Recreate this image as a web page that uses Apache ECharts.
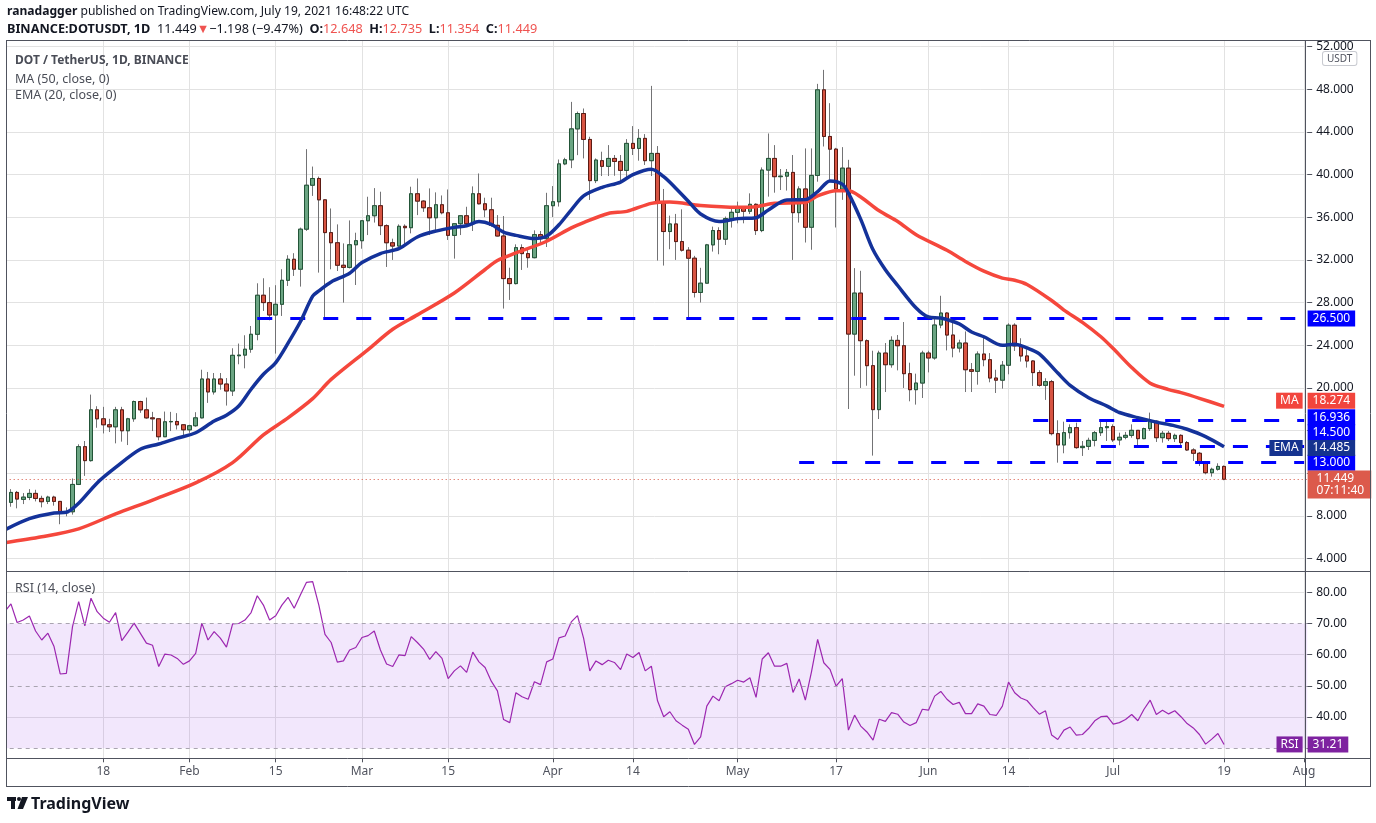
<!DOCTYPE html>
<html>
<head>
<meta charset="utf-8">
<script src="https://cdn.jsdelivr.net/npm/echarts@6/dist/echarts.min.js"></script>
<style>html,body{margin:0;padding:0;background:#fff}#chart{width:1376px;height:823px}</style>
</head>
<body>
<div id="chart"></div>
<script>
// ---------- DATA ----------
// daily candles [open, high, low, close], one array per month (Jan starts on Jan 2)
const jan = [
 [8.34,9.5,8.2,9.28],[9.28,10.52,8.87,10.21],[10.21,10.35,8.72,9.59],[9.56,10.15,9.12,9.77],
 [9.74,10.52,9.49,10.12],[10.12,10.46,9.37,9.65],[9.65,9.9,8.81,9.34],[9.37,9.9,9.12,9.77],
 [9.77,9.9,8.97,9.37],[9.37,9.4,7.23,8.31],[8.31,8.81,7.97,8.40],[8.40,11.52,8.13,10.96],
 [10.96,14.72,10.9,14.5],[14.5,15.03,11.76,13.19],[13.19,19.38,13.1,17.95],[17.95,18.29,16.27,17.11],
 [17.11,18.23,15.74,16.55],[16.55,17.11,15.87,16.36],[16.36,18.23,14.81,17.95],[17.95,18.23,14.97,15.99],
 [15.99,17.2,14.65,17.11],[17.11,18.82,16.83,18.73],[18.73,18.8,17.67,17.95],[17.95,19.1,17.11,17.2],
 [17.2,17.76,15.96,17.11],[17.11,17.15,15.09,15.43],[15.43,17.79,15.4,16.83],[16.83,17.76,15.96,16.86],
 [16.86,17.64,16.11,16.55],[16.55,16.6,15.49,16.08]
];
const feb = [
 [16.08,16.55,15.8,16.46],[16.46,17.73,16.36,17.2],[17.2,21.71,17.15,20.84],[20.84,21.5,18.6,19.63],
 [19.63,21.4,19.38,20.84],[20.84,21.4,19.84,20.37],[20.37,20.93,18.35,19.72],[19.72,23.72,19.25,23.06],
 [23.02,24.16,22.22,23.08],[23.08,24.94,21.84,23.63],[23.63,25.81,23.3,25.03],[25.03,29.81,24.47,28.69],
 [28.69,30.28,27.22,28.0],[28.0,29.44,26.34,26.84],[26.84,29.63,23.22,27.84],[27.84,31.13,26.75,30.09],
 [30.09,32.44,29.56,32.06],[32.06,32.63,30.5,31.13],[31.13,35.03,29.5,34.88],[34.88,42.38,34.72,39.0],
 [39.0,40.75,38.0,39.63],[39.63,39.81,30.81,37.63],[37.63,37.67,26.5,34.56],[34.56,36.82,31.12,33.61],
 [33.61,35.33,30.96,31.5],[31.5,33.55,28.0,31.3],[31.3,35.7,31.2,33.42],[33.42,34.55,29.65,33.8]
];
const mar = [
 [33.8,35.7,33.05,35.67],[35.67,37.92,34.33,36.14],[36.14,38.73,35.5,37.08],[37.08,38.39,34.33,35.21],
 [35.21,35.33,31.34,33.61],[33.61,33.99,32.0,33.3],[33.3,35.33,33.25,35.15],[35.15,35.33,33.36,35.02],
 [35.02,38.86,34.49,38.2],[38.2,39.63,36.2,37.51],[37.51,37.6,36.5,36.89],[36.89,38.7,34.33,35.95],
 [35.95,38.33,34.71,37.17],[37.17,38.04,36.27,36.42],[36.42,38.6,33.87,34.3],[34.3,35.45,32.12,35.39],
 [35.39,36.2,34.33,36.14],[36.14,36.98,35.24,35.39],[35.39,38.89,34.71,38.2],[38.2,40.1,37.2,37.26],
 [37.26,37.83,36.0,36.7],[36.7,37.83,35.11,35.24],[35.24,36.2,34.2,34.24],[34.24,36.11,27.44,30.25],
 [30.25,31.27,28.25,29.78],[29.78,33.46,29.7,33.15],[33.15,33.46,31.06,32.59],[32.59,32.99,31.27,32.21],
 [32.21,34.77,32.15,34.37],[34.37,34.71,33.46,33.99],[33.99,38.29,33.21,37.08]
];
const apr = [
 [37.08,38.92,36.02,37.45],[37.45,41.41,37.0,41.0],[41.0,41.57,40.88,41.38],[41.38,46.81,40.6,44.28],
 [44.28,45.9,41.82,45.72],[45.72,46.19,41.51,43.29],[43.29,43.54,37.62,39.43],[39.43,41.51,39.2,41.36],
 [41.3,42.14,39.86,40.77],[40.77,42.76,39.86,41.51],[41.51,41.83,39.89,41.23],[41.23,41.83,39.33,40.39],
 [40.39,43.32,39.64,42.92],[42.92,44.54,41.83,42.45],[42.45,44.26,41.3,43.39],[43.39,43.79,40.9,41.3],
 [41.3,48.31,39.86,41.98],[41.98,42.67,31.94,37.31],[37.31,38.65,31.47,34.66],[34.66,36.15,33.0,35.37],
 [35.37,36.31,32.0,33.72],[33.72,36.74,32.78,32.91],[32.91,33.2,26.6,32.16],[32.16,32.38,28.48,28.95],
 [28.95,31.26,28.01,29.82],[29.82,33.5,29.8,33.41],[33.41,35.12,32.78,34.75],[34.75,35.06,32.53,33.94],
 [33.94,36.06,33.4,35.87],[35.87,36.99,35.03,36.46]
];
const may = [
 [36.46,37.46,35.43,36.9],[36.9,36.95,35.43,36.56],[36.56,38.24,36.3,37.21],[37.21,37.3,34.34,34.75],
 [34.75,40.67,34.6,40.42],[40.42,43.85,37.93,41.51],[41.51,42.76,38.3,39.8],[39.8,40.52,38.55,39.85],
 [39.85,40.52,38.5,40.2],[40.2,41.83,32.0,36.43],[36.43,38.9,35.5,38.65],[38.65,42.45,33.63,35.06],
 [35.06,42.45,32.95,39.92],[39.92,48.5,39.33,47.94],[47.94,49.81,42.63,43.57],[43.57,46.69,39.5,42.38],
 [42.38,42.5,35.04,38.63],[38.63,42.57,37.63,40.6],[40.6,41.38,18.03,25.05],[25.05,31.23,21.15,28.89],
 [28.89,30.98,20.0,24.43],[24.43,24.55,20.21,22.09],[22.09,23.49,13.66,17.97],[17.97,23.49,17.09,23.27],
 [23.27,24.21,19.62,22.18],[22.18,24.84,21.9,24.46],[24.46,24.96,21.65,23.96],[23.96,26.18,20.0,21.34],
 [21.34,22.37,18.75,19.84],[19.84,21.34,18.44,20.46],[20.46,23.49,19.06,23.27]
];
const jun = [
 [23.27,23.49,21.46,22.81],[22.81,26.55,22.65,25.9],[25.9,28.64,25.6,27.02],[27.02,27.1,23.52,24.96],
 [24.96,26.4,22.87,23.74],[23.74,24.52,23.33,24.21],[24.21,25.3,19.62,21.71],[21.71,22.34,19.62,21.56],
 [21.56,23.43,20.31,23.18],[23.18,24.68,22.03,22.65],[22.65,23.27,20.53,20.93],[20.93,21.71,19.53,20.73],
 [20.73,22.53,19.94,22.13],[22.13,26.06,21.28,25.88],[25.88,26.06,23.47,23.94],[23.94,24.66,22.47,23.0],
 [23.0,23.63,21.91,22.53],[22.53,22.6,20.19,21.44],[21.44,21.66,20.12,20.25],[20.25,20.91,18.88,20.59],
 [20.59,20.75,15.56,15.72],[15.72,16.97,13.0,14.66],[14.66,16.84,13.88,15.81],[15.81,16.59,15.25,16.28],
 [16.28,16.75,14.3,14.41],[14.41,15.03,13.63,14.53],[14.53,15.34,14.19,15.09],[15.09,15.97,14.53,15.81],
 [15.81,17.06,15.5,16.28],[16.28,16.81,15.03,16.38]
];
const jul = [
 [16.38,16.59,14.94,15.13],[15.13,15.81,14.63,15.38],[15.38,15.88,15.19,15.56],[15.56,16.59,15.34,16.03],
 [16.03,16.05,14.47,15.25],[15.25,16.28,15.2,16.19],[16.19,17.69,15.97,16.88],[16.88,16.97,14.94,15.34],
 [15.34,15.97,14.88,15.75],[15.75,15.97,15.03,15.25],[15.25,15.72,14.94,15.56],[15.56,15.66,14.41,14.88],
 [14.88,15.03,14.1,14.19],[14.19,14.35,13.16,13.88],[13.88,14.0,12.69,13.06],[13.06,13.16,11.91,12.06],
 [12.06,12.53,11.69,12.38],[12.38,12.94,12.25,12.648],[12.648,12.735,11.354,11.449]
];

// RSI (14, close), one value per day, Jan 2 .. Jul 19
const rsiJan = [73.8,76.3,70.3,71.1,72.4,67.6,64.7,66.9,62.6,53.8,54.0,69.0,77.0,69.2,78.1,73.8,71.7,70.4,73.5,64.5,67.2,70.1,66.9,63.7,63.0,56.2,60.2,59.9,58.8,56.9];
const rsiFeb = [58.0,60.4,70.1,64.7,67.4,65.3,62.4,69.9,70.0,71.1,73.5,78.9,75.9,71.1,72.5,75.9,78.4,74.9,79.1,83.2,83.4,75.9,66.5,63.9,57.6,58.0,61.5,62.3];
const rsiMar = [65.5,66.1,67.6,61.5,57.0,56.2,59.9,59.7,65.8,63.9,61.8,58.5,61.0,58.8,52.3,54.8,56.4,54.3,60.8,57.7,55.9,51.5,48.4,39.2,38.2,47.8,46.5,45.7,51.3,50.4,57.7];
const rsiApr = [58.6,65.4,66.0,70.5,72.5,65.2,54.8,58.0,56.8,58.2,57.5,55.2,60.2,59.1,60.7,54.8,56.3,45.2,40.1,41.7,38.8,37.4,36.1,31.2,33.6,43.5,46.7,45.2,49.7,50.7];
const rsiMay = [51.8,51.2,52.6,46.3,58.6,60.6,56.3,56.3,57.2,47.9,52.2,45.4,54.5,64.9,57.4,55.3,49.9,52.3,35.8,40.6,37.1,35.2,32.6,39.3,38.6,41.4,40.9,38.4,37.3,38.2,42.5];
const rsiJun = [42.2,46.7,48.2,45.7,44.0,44.7,41.1,41.1,44.2,43.5,40.8,40.5,43.5,51.2,47.8,46.1,45.3,43.0,40.9,42.0,34.2,32.8,35.8,36.8,34.2,34.4,36.3,38.8,40.1,40.3];
const rsiJul = [37.7,38.2,39.2,40.8,38.8,42.5,45.4,40.8,42.2,41.0,42.0,40.1,37.9,36.5,34.4,31.3,32.9,34.7,31.21];

// MA (50) and EMA (20) readings along their curves [date, value]
const maPoints = [
 ['2021-01-02',5.5],['2021-01-08',6.05],['2021-01-14',6.8],['2021-01-20',8.2],['2021-01-26',9.5],
 ['2021-02-02',11.1],['2021-02-08',13.0],['2021-02-13',15.6],['2021-02-17',17.2],['2021-02-21',19.0],
 ['2021-02-24',20.8],['2021-03-02',23.6],['2021-03-06',25.5],['2021-03-10',26.85],['2021-03-16',28.9],
 ['2021-03-21',31.1],['2021-03-23',31.95],['2021-03-26',32.65],['2021-03-31',33.75],['2021-04-04',35.0],
 ['2021-04-06',35.5],['2021-04-10',36.35],['2021-04-13',36.55],['2021-04-17',37.3],['2021-04-20',37.43],
 ['2021-04-25',37.1],['2021-05-01',36.93],['2021-05-04',36.99],['2021-05-07',37.3],['2021-05-12',37.4],
 ['2021-05-14',38.0],['2021-05-17',38.48],['2021-05-19',38.48],['2021-05-21',37.9],['2021-05-24',36.6],
 ['2021-05-27',35.6],['2021-05-30',34.36],['2021-06-04',32.9],['2021-06-07',31.86],['2021-06-10',30.95],
 ['2021-06-13',30.3],['2021-06-15',30.1],['2021-06-17',29.7],['2021-06-21',28.2],['2021-06-23',27.3],
 ['2021-06-26',26.15],['2021-06-29',24.8],['2021-07-01',23.69],['2021-07-04',21.91],['2021-07-07',20.45],
 ['2021-07-10',19.85],['2021-07-12',19.56],['2021-07-15',19.03],['2021-07-19',18.274]
];
const emaPoints = [
 ['2021-01-02',6.7],['2021-01-06',7.75],['2021-01-10',8.28],['2021-01-12',8.35],['2021-01-14',9.2],
 ['2021-01-17',11.1],['2021-01-20',12.55],['2021-01-24',14.25],['2021-01-27',14.75],['2021-01-30',15.3],
 ['2021-02-02',15.8],['2021-02-05',16.9],['2021-02-07',17.45],['2021-02-09',18.31],['2021-02-11',19.88],
 ['2021-02-13',21.28],['2021-02-15',22.38],['2021-02-17',24.2],['2021-02-19',26.2],['2021-02-21',28.6],
 ['2021-02-22',29.1],['2021-02-24',29.94],['2021-02-27',30.75],['2021-03-01',31.75],['2021-03-04',32.6],
 ['2021-03-07',33.05],['2021-03-10',34.15],['2021-03-13',34.7],['2021-03-16',35.05],['2021-03-18',35.2],
 ['2021-03-20',35.6],['2021-03-22',35.33],['2021-03-24',34.6],['2021-03-26',34.3],['2021-03-29',34.0],
 ['2021-03-31',34.24],['2021-04-02',35.3],['2021-04-04',36.7],['2021-04-06',38.0],['2021-04-09',38.8],
 ['2021-04-12',39.3],['2021-04-14',40.0],['2021-04-17',40.5],['2021-04-19',39.8],['2021-04-21',38.7],
 ['2021-04-23',37.5],['2021-04-25',36.3],['2021-04-28',35.6],['2021-05-01',35.87],['2021-05-04',35.96],
 ['2021-05-06',36.68],['2021-05-09',37.62],['2021-05-12',37.65],['2021-05-14',38.4],['2021-05-16',39.4],
 ['2021-05-18',39.1],['2021-05-19',38.26],['2021-05-21',35.8],['2021-05-23',32.95],['2021-05-25',31.08],
 ['2021-05-27',29.6],['2021-05-30',27.49],['2021-06-01',26.65],['2021-06-03',26.55],['2021-06-06',26.0],
 ['2021-06-08',25.25],['2021-06-10',24.8],['2021-06-13',24.0],['2021-06-15',24.1],['2021-06-17',23.75],
 ['2021-06-19',23.2],['2021-06-22',21.4],['2021-06-24',20.25],['2021-06-27',19.09],['2021-06-30',18.3],
 ['2021-07-02',17.7],['2021-07-05',17.22],['2021-07-08',16.8],['2021-07-11',16.45],['2021-07-13',16.13],
 ['2021-07-16',15.44],['2021-07-19',14.485]
];

// horizontal levels drawn on the chart
const levelValues = [26.5, 16.936, 14.5, 13.0];
const levelStarts = ['2021-02-12', '2021-06-18', '2021-06-29', '2021-05-11'];
const lastPrice = 11.449, lastMA = 18.274, lastEMA = 14.485, lastRSI = 31.21;
const countdown = '07:11:40';

// time axis labels
const tickDates = ['2021-01-18','2021-02-01','2021-02-15','2021-03-01','2021-03-15','2021-04-01','2021-04-14',
                   '2021-05-01','2021-05-17','2021-06-01','2021-06-14','2021-07-01','2021-07-19','2021-08-01'];
const tickLabels = ['18','Feb','15','Mar','15','Apr','14','May','17','Jun','14','Jul','19','Aug'];

// ---------- BUILD ----------
const categories = [];
(function () {
  const d = new Date(Date.UTC(2021, 0, 2));
  const end = Date.UTC(2021, 7, 1);
  while (d.getTime() <= end) { categories.push(d.toISOString().slice(0, 10)); d.setUTCDate(d.getUTCDate() + 1); }
})();
const LAST = categories.length - 1;
const idx = d => categories.indexOf(d);

const ohlc = [].concat(jan, feb, mar, apr, may, jun, jul);
const wickData = ohlc.map(r => [r[0], r[3], r[2], r[1]]);
const bodyData = ohlc.map(r => [r[0], r[3], Math.min(r[0], r[3]), Math.max(r[0], r[3])]);
const rsi = [].concat(rsiJan, rsiFeb, rsiMar, rsiApr, rsiMay, rsiJun, rsiJul);
const maData = maPoints.map(p => [idx(p[0]), p[1]]);
const emaData = emaPoints.map(p => [idx(p[0]), p[1]]);

const FONT = 'Noto Sans';
const isTick = (i, v) => tickDates.indexOf(v) >= 0;

function tag(value, text, bg, dy, side, pad, lh) {
  return {
    coord: [LAST, value], value: value, symbol: 'rect', symbolSize: [1, 1],
    itemStyle: { color: 'rgba(0,0,0,0)' },
    label: {
      show: true, position: side, distance: side === 'right' ? 3 : 1, offset: [0, dy],
      formatter: text, backgroundColor: bg, color: '#ffffff', fontFamily: FONT, fontSize: 12,
      lineHeight: lh || 13, padding: pad || [2, 5, 1, 5], align: side === 'right' ? 'left' : 'right'
    }
  };
}

const BLUE = '#0000ff';
const levelTagDy = [0, -3.5, -14.5, 0];

const chart = echarts.init(document.getElementById('chart'));
chart.setOption({
  animation: false,
  backgroundColor: '#ffffff',
  textStyle: { fontFamily: FONT },
  title: [
    { left: 7, top: 4, padding: 0,
      text: '{b|ranadagger} published on TradingView.com, July 19, 2021 16:48:22 UTC',
      textStyle: { fontFamily: FONT, fontSize: 12.1, fontWeight: 'normal', color: '#131722', lineHeight: 16,
        rich: { b: { fontFamily: FONT, fontSize: 12.1, fontWeight: 'bold', color: '#131722' } } } },
    { left: 7, top: 21, padding: 0,
      text: '{b|BINANCE:DOTUSDT, 1D}  11.449{r|▼}−1.198 (−9.47%)  {b|O:}{r|12.648}  {b|H:}{r|12.735}  {b|L:}{r|11.354}  {b|C:}{r|11.449}',
      textStyle: { fontFamily: FONT, fontSize: 12.7, fontWeight: 'normal', color: '#131722', lineHeight: 16,
        rich: { b: { fontFamily: FONT, fontSize: 12.7, fontWeight: 'bold', color: '#131722' },
                r: { fontFamily: FONT, fontSize: 12.7, color: '#ef5350' } } } },
    { left: 15, top: 53, padding: 0, text: 'DOT / TetherUS, 1D, BINANCE',
      textStyle: { fontFamily: FONT, fontSize: 12, fontWeight: 'bold', color: '#4a4d57', lineHeight: 16 } },
    { left: 15, top: 71, padding: 0, text: 'MA (50, close, 0)',
      textStyle: { fontFamily: FONT, fontSize: 12.5, fontWeight: 'normal', color: '#4a4d57', lineHeight: 16 } },
    { left: 15, top: 87, padding: 0, text: 'EMA (20, close, 0)',
      textStyle: { fontFamily: FONT, fontSize: 12.5, fontWeight: 'normal', color: '#4a4d57', lineHeight: 16 } },
    { left: 15, top: 580, padding: 0, text: 'RSI (14, close)',
      textStyle: { fontFamily: FONT, fontSize: 12.5, fontWeight: 'normal', color: '#4a4d57', lineHeight: 16 } },
    { left: 31, top: 794, padding: 0, text: 'TradingView',
      textStyle: { fontFamily: FONT, fontSize: 16, fontWeight: 'bold', color: '#131722', lineHeight: 20 } }
  ],
  grid: [
    { left: 4.78, width: 1299.3, top: 40, height: 718.3 },
    { left: 1.7, width: 1305.5, top: 46.5, height: 512.2 },
    { left: 1.7, width: 1305.5, top: 592.3, height: 155.9 }
  ],
  xAxis: [
    { gridIndex: 0, type: 'category', data: categories, boundaryGap: false,
      axisLine: { show: false },
      axisTick: { show: true, interval: isTick, length: 4, lineStyle: { color: '#50535e' } },
      axisLabel: { interval: isTick, formatter: v => tickLabels[tickDates.indexOf(v)] || '',
        margin: 7, color: '#50535e', fontSize: 12, fontFamily: FONT },
      splitLine: { show: true, interval: isTick, lineStyle: { color: '#e2e2e2', width: 1 } } },
    { gridIndex: 1, type: 'category', data: categories, boundaryGap: true, show: false },
    { gridIndex: 2, type: 'category', data: categories, boundaryGap: true, show: false }
  ],
  yAxis: [
    { gridIndex: 0, type: 'value', show: false },
    { gridIndex: 1, type: 'value', position: 'right', min: 4, max: 52, interval: 4,
      axisLine: { show: false },
      axisTick: { show: true, length: 5, lineStyle: { color: '#50535e' } },
      axisLabel: { margin: 9, color: '#131722', fontSize: 12, fontFamily: FONT,
        showMinLabel: true, showMaxLabel: true,
        formatter: v => (v === 12 || v === 16) ? '' : v.toFixed(3) },
      splitLine: { show: true, lineStyle: { color: '#e2e2e2', width: 1 } } },
    { gridIndex: 2, type: 'value', position: 'right', min: 30, max: 80, interval: 10,
      axisLine: { show: false },
      axisTick: { show: true, length: 5, lineStyle: { color: '#50535e' } },
      axisLabel: { margin: 9, color: '#131722', fontSize: 12, fontFamily: FONT,
        showMinLabel: true, showMaxLabel: true,
        formatter: v => v === 30 ? '' : v.toFixed(2) },
      splitLine: { show: true, lineStyle: { color: ['rgba(0,0,0,0)', '#e2e2e2'], width: 1 } } }
  ],
  series: [
    { type: 'candlestick', name: 'wicks', xAxisIndex: 1, yAxisIndex: 1, data: wickData, barWidth: 4, z: 2,
      itemStyle: { color: 'rgba(0,0,0,0)', color0: 'rgba(0,0,0,0)', borderColor: '#737375', borderColor0: '#737375', borderWidth: 1 } },
    { type: 'candlestick', name: 'DOTUSDT', xAxisIndex: 1, yAxisIndex: 1, data: bodyData, barWidth: 4, z: 3,
      itemStyle: { color: '#6ba583', color0: '#d75442', borderColor: '#225437', borderColor0: '#5b1a13', borderWidth: 1 } },
    { type: 'line', name: 'MA', xAxisIndex: 1, yAxisIndex: 1, data: maData, smooth: 0.3, showSymbol: false, z: 4,
      lineStyle: { color: '#f5473c', width: 3.5 } },
    { type: 'line', name: 'EMA', xAxisIndex: 1, yAxisIndex: 1, data: emaData, smooth: 0.3, showSymbol: false, z: 5,
      lineStyle: { color: '#14329a', width: 3.5 } },
    { type: 'line', name: 'levels', xAxisIndex: 1, yAxisIndex: 1, data: [], z: 6,
      markLine: { silent: true, symbol: ['none', 'none'], label: { show: false }, animation: false,
        lineStyle: { color: BLUE, width: 3, type: [15, 18] },
        data: [
          { yAxis: lastPrice, lineStyle: { color: '#d75442', width: 1, type: [1, 3] } }
        ].concat(levelValues.map((v, i) => [ { coord: [idx(levelStarts[i]), v] }, { coord: [LAST, v] } ])) },
      markPoint: { silent: true, animation: false,
        data: levelValues.map((v, i) => tag(v, v.toFixed(3), BLUE, levelTagDy[i], 'right'))
          .concat([
            tag(lastPrice, lastPrice.toFixed(3) + '\n' + countdown, '#dc5a4b', 5.3, 'right', [2, 7, 2, 9], 12),
            tag(lastMA, lastMA.toFixed(3), '#f2453d', -5.7, 'right'),
            tag(lastMA, 'MA', '#f2453d', -5.7, 'left', [2, 4, 1, 4]),
            tag(lastEMA, lastEMA.toFixed(3), '#15338f', 1.1, 'right'),
            tag(lastEMA, 'EMA', '#15338f', 1.1, 'left', [2, 4, 1, 4])
          ]) } },
    { type: 'line', name: 'RSI', xAxisIndex: 2, yAxisIndex: 2, data: rsi, showSymbol: false, clip: false, z: 4,
      lineStyle: { color: '#9c27b0', width: 1.2 },
      markArea: { silent: true, itemStyle: { color: 'rgba(150,60,230,0.12)' }, data: [[{ yAxis: 30 }, { yAxis: 70 }]] },
      markLine: { silent: true, symbol: ['none', 'none'], label: { show: false }, animation: false,
        lineStyle: { color: '#a9a4b0', width: 1, type: [4, 4] },
        data: [{ yAxis: 70 }, { yAxis: 50 }, { yAxis: 30 }] },
      markPoint: { silent: true, animation: false,
        data: [ tag(lastRSI, lastRSI.toFixed(2), '#7e22a0', 0, 'right'),
                tag(lastRSI, 'RSI', '#7e22a0', 0, 'left', [2, 4, 1, 4]) ] } }
  ],
  graphic: [
    { type: 'rect', shape: { x: 0, y: 40, width: 6, height: 747 }, style: { fill: '#ffffff' }, z: 50, silent: true },
    { type: 'line', shape: { x1: 6, y1: 40.5, x2: 1371, y2: 40.5 }, style: { stroke: '#50535e', lineWidth: 1 }, z: 60, silent: true },
    { type: 'line', shape: { x1: 6.5, y1: 40, x2: 6.5, y2: 787 }, style: { stroke: '#50535e', lineWidth: 1 }, z: 60, silent: true },
    { type: 'line', shape: { x1: 1370.5, y1: 40, x2: 1370.5, y2: 787 }, style: { stroke: '#50535e', lineWidth: 1 }, z: 60, silent: true },
    { type: 'line', shape: { x1: 6, y1: 571.5, x2: 1371, y2: 571.5 }, style: { stroke: '#50535e', lineWidth: 1 }, z: 60, silent: true },
    { type: 'line', shape: { x1: 6, y1: 758.5, x2: 1371, y2: 758.5 }, style: { stroke: '#50535e', lineWidth: 1 }, z: 60, silent: true },
    { type: 'line', shape: { x1: 6, y1: 786.5, x2: 1371, y2: 786.5 }, style: { stroke: '#50535e', lineWidth: 1 }, z: 60, silent: true },
    { type: 'line', shape: { x1: 1305.5, y1: 40, x2: 1305.5, y2: 787 }, style: { stroke: '#50535e', lineWidth: 1 }, z: 60, silent: true },
    { type: 'text', x: 1323, y: 52, z: 60, silent: true,
      style: { text: 'USDT', fill: '#50535e', font: '10px "Noto Sans"', backgroundColor: '#ffffff',
        borderColor: '#c8cad0', borderWidth: 1, borderRadius: 2, padding: [2, 4, 1, 4] } },
    { type: 'rect', shape: { x: 7, y: 797, width: 9, height: 4 }, style: { fill: '#131722' }, silent: true },
    { type: 'rect', shape: { x: 11, y: 797, width: 4, height: 12 }, style: { fill: '#131722' }, silent: true },
    { type: 'circle', shape: { cx: 19, cy: 799, r: 2 }, style: { fill: '#131722' }, silent: true },
    { type: 'polygon', shape: { points: [[22, 797], [28, 797], [23, 809], [17.5, 809]] }, style: { fill: '#131722' }, silent: true }
  ]
});
</script>
</body>
</html>
